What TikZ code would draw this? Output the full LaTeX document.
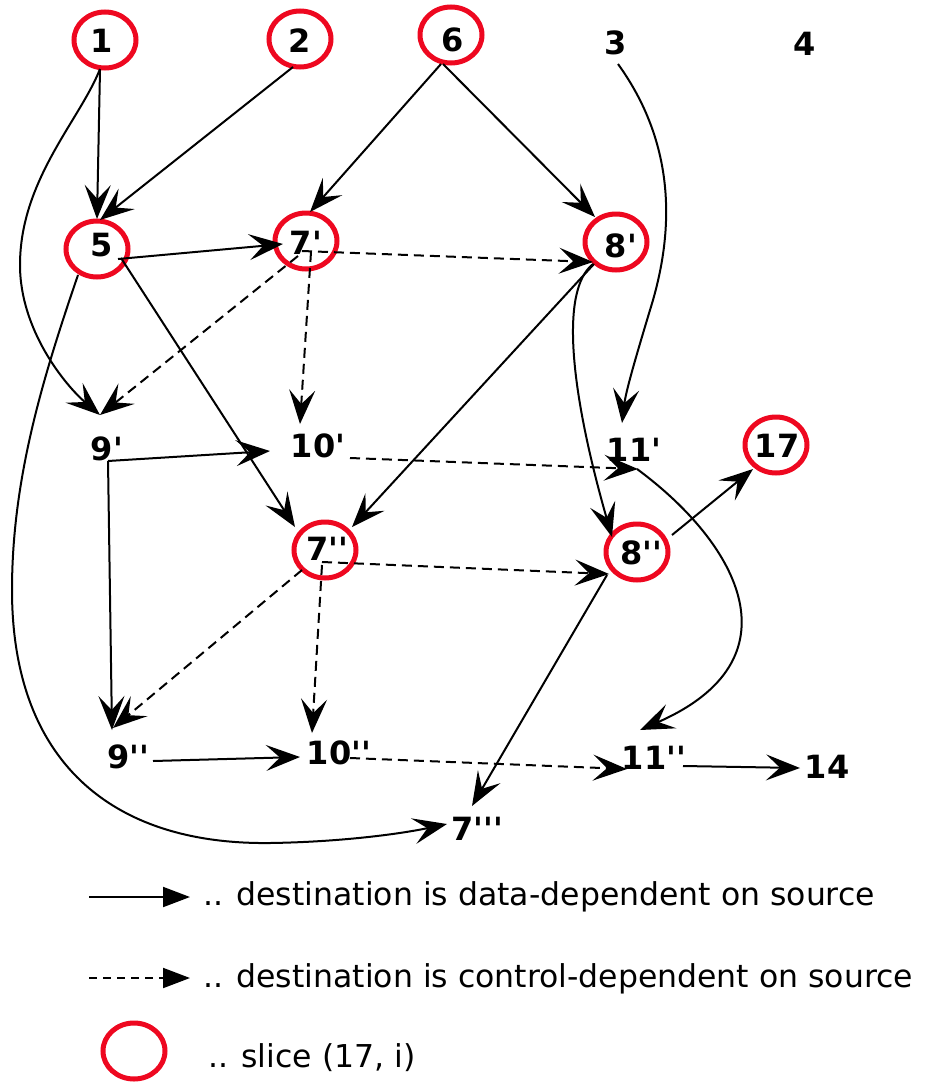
\documentclass[tikz,border=0pt]{standalone}
\usepackage{fontspec}
\newfontfamily\dejavu{DejaVu Sans}
\usetikzlibrary{arrows.meta,shapes.geometric}
\definecolor{slicered}{RGB}{238,8,32}
\begin{document}
\begin{tikzpicture}[x=1pt,y=-1pt,
  lbl/.style={font=\dejavu\bfseries\fontsize{32}{38}\selectfont, inner sep=0pt},
  slice/.style={ellipse, draw=slicered, line width=5pt, minimum width=62pt,
    minimum height=56pt, inner sep=0pt, outer sep=0pt},
  legtext/.style={font=\dejavu\fontsize{31.5}{38}\selectfont, inner sep=0pt, anchor=base west},
  data/.style={line width=2pt, -{Stealth[length=34pt,width=26pt,inset=14pt]}},
  ctrl/.style={data, dash pattern=on 10pt off 6pt},
]
\useasboundingbox (0,0) rectangle (925,1082);

% slice members (red rings)
\node[slice] (c1)  at (105,40)  {};
\node[slice] (c2)  at (300,39)  {};
\node[slice] (c6)  at (451,35)  {};
\node[slice] (c5)  at (97,249)  {};
\node[slice] (c7a) at (306,241) {};
\node[slice] (c8a) at (616,242) {};
\node[slice] (c17) at (776,445) {};
\node[slice] (c7b) at (325,550) {};
\node[slice] (c8b) at (637,552) {};

% statement labels
\node[lbl] (t1)  at (102,41)  {1};
\node[lbl] (t2)  at (300,41)  {2};
\node[lbl] (t6)  at (453,40)  {6};
\node[lbl] (n3)  at (616,43)  {3};
\node[lbl] (n4)  at (805,44)  {4};
\node[lbl] (t5)  at (102,245) {5};
\node[lbl] (t7a) at (306,243) {7'};
\node[lbl] (t8a) at (621,246) {8'};
\node[lbl] (n9a) at (107,449) {9'};
\node[lbl] (n10a) at (318,446) {10'};
\node[lbl] (n11a) at (634,450) {11'};
\node[lbl] (t17) at (777,446) {17};
\node[lbl] (t7b) at (327,549) {7''};
\node[lbl] (t8b) at (641,553) {8''};
\node[lbl] (n9b) at (128,757) {9''};
\node[lbl] (n10b) at (339,753) {10''};
\node[lbl] (n11b) at (654,758) {11''};
\node[lbl] (n14) at (827,767) {14};
\node[lbl] (n7c) at (477,829) {7'''};

% data dependences
\draw[data] ([shift={(-5,30)}]c1.center) -- ([shift={(0,-30)}]c5.center);
\draw[data] ([shift={(-5,29)}]c1.center) .. controls (80,120) and (20,180) .. (20,265)
  .. controls (20,330) and (65,385) .. ([shift={(-7,-34)}]n9a.center);
\draw[data] ([shift={(-7,28)}]c2.center) -- ([shift={(3,-29)}]c5.center);
\draw[data] ([shift={(-10,29)}]c6.center) -- ([shift={(4,-29)}]c7a.center);
\draw[data] ([shift={(-8,29)}]c6.center) -- ([shift={(-21,-25)}]c8a.center);
\draw[data] ([shift={(21,10)}]c5.center) -- ([shift={(-23,3)}]c7a.center);
\draw[data] ([shift={(24,9)}]c5.center) -- ([shift={(-30,-23)}]c7b.center);
\draw[data] ([shift={(-19,26)}]c5.center) .. controls (42,380) and (12,480) .. (12,590)
  .. controls (12,760) and (110,845) .. (270,843)
  .. controls (340,842) and (400,834) .. ([shift={(-30,-5)}]n7c.center);
\draw[data] ([shift={(-22,22)}]c8a.center) -- ([shift={(27,-23)}]c7b.center);
\draw[data] ([shift={(-23,22)}]c8a.center) .. controls (560,290) and (570,390) .. ([shift={(-25,-15)}]c8b.center);
\draw[data] ([shift={(2,21)}]n3.center) .. controls (680,150) and (672,240) .. (650,310)
  .. controls (638,350) and (626,390) .. ([shift={(-12,-27)}]n11a.center);
\draw[data] ([shift={(1,12)}]n9a.center) -- ([shift={(-48,5)}]n10a.center);
\draw[data] ([shift={(1,12)}]n9a.center) -- ([shift={(-16,-27)}]n9b.center);
\draw[data] ([shift={(3,19)}]n11a.center) .. controls (740,545) and (800,660) .. ([shift={(-14,-28)}]n11b.center);
\draw[data] ([shift={(35,-17)}]c8b.center) -- ([shift={(-23,24)}]c17.center);
\draw[data] ([shift={(-30,23)}]c8b.center) -- ([shift={(-5,-23)}]n7c.center);
\draw[data] ([shift={(25,4)}]n9b.center) -- ([shift={(-39,4)}]n10b.center);
\draw[data] ([shift={(29,8)}]n11b.center) -- ([shift={(-27,1)}]n14.center);

% control dependences
\draw[ctrl] ([shift={(-4,10)}]c7a.center) -- ([shift={(-23,20)}]c8a.center);
\draw[ctrl] ([shift={(-8,15)}]c7a.center) -- ([shift={(-7,-34)}]n9a.center);
\draw[ctrl] ([shift={(5,11)}]c7a.center) -- ([shift={(-18,-22)}]n10a.center);
\draw[ctrl] ([shift={(32,12)}]n10a.center) -- ([shift={(4,19)}]n11a.center);
\draw[ctrl] ([shift={(-3,12)}]c7b.center) -- ([shift={(-28,22)}]c8b.center);
\draw[ctrl] ([shift={(-23,20)}]c7b.center) -- ([shift={(-15,-29)}]n9b.center);
\draw[ctrl] ([shift={(-3,15)}]c7b.center) -- ([shift={(-27,-20)}]n10b.center);
\draw[ctrl] ([shift={(11,5)}]n10b.center) -- ([shift={(-27,11)}]n11b.center);

% legend
\coordinate (ls1) at (89,897);
\coordinate (le1) at (190,897);
\coordinate (ls2) at (89,978);
\coordinate (le2) at (190,978);
\draw[line width=2pt, -{Triangle[length=27pt,width=20pt]}] (ls1) -- (le1);
\draw[line width=2pt, dash pattern=on 8pt off 6pt, -{Triangle[length=27pt,width=20pt]}] (ls2) -- (le2);
\node[slice] (legslice) at (134,1051) {};
\node[legtext] (leg1) at (203,905) {.. destination is data-dependent on source};
\node[legtext] (leg2) at (203,987) {.. destination is control-dependent on source};
\node[legtext] (leg3) at (208,1067) {.. slice (17, i)};
\end{tikzpicture}
\end{document}
